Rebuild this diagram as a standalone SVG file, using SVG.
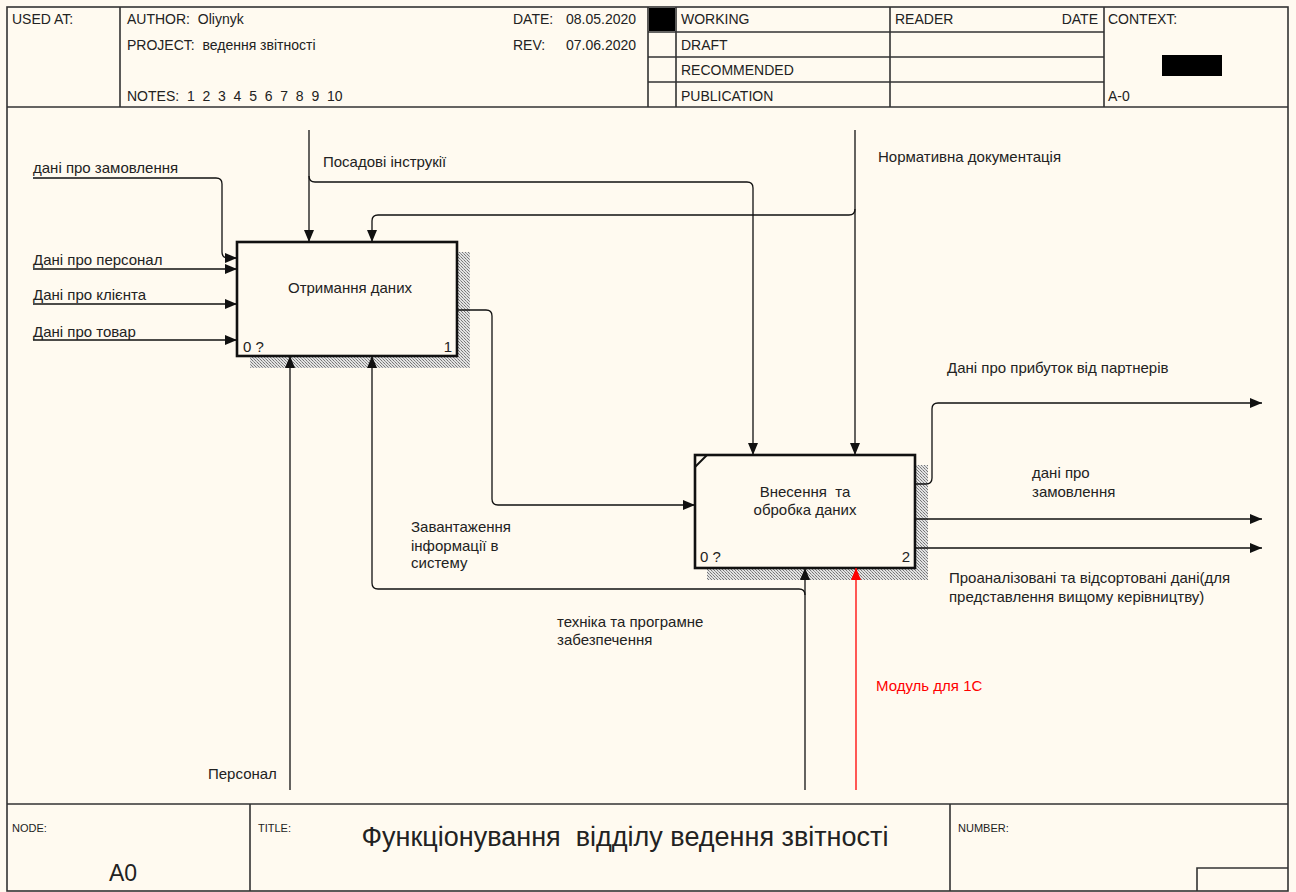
<svg xmlns="http://www.w3.org/2000/svg" width="1296" height="892" viewBox="0 0 1296 892">
<style>
text{font-family:"Liberation Sans",Arial,sans-serif;fill:#222;white-space:pre}
.h{font-size:14px}
.l{font-size:15px}
.f{font-size:11px}
.frame{fill:none;stroke:#333;stroke-width:1.6}
.box{fill:#FFFAF0;stroke:#111;stroke-width:2.6}
.c{fill:none;stroke:#111;stroke-width:1.3}
.r{fill:none;stroke:#f00;stroke-width:1.3}
</style>
<defs>
<pattern id="hatch" width="3" height="3" patternUnits="userSpaceOnUse">
<rect width="3" height="3" fill="#e2e2e2"/>
<rect x="0" y="0" width="1" height="1" fill="#777"/>
<rect x="1" y="1" width="1" height="1" fill="#999"/>
<rect x="2" y="2" width="1" height="1" fill="#777"/>
</pattern>
<marker id="a" viewBox="0 0 12 10" refX="12" refY="5" markerWidth="12" markerHeight="10" markerUnits="userSpaceOnUse" orient="auto"><path d="M0,0 L12,5 L0,10 z" fill="#111"/></marker>
<marker id="ar" viewBox="0 0 12 10" refX="12" refY="5" markerWidth="12" markerHeight="10" markerUnits="userSpaceOnUse" orient="auto"><path d="M0,0 L12,5 L0,10 z" fill="#f00"/></marker>
</defs>
<rect width="1296" height="892" fill="#FFFAF0"/>
<g id="frame">
<rect class="frame" x="7" y="7" width="1281" height="884"/>
<path class="frame" d="M7,107 H1288 M120,7 V107 M648,7 V107 M676,7 V107 M890,7 V107 M1104,7 V107 M648,32 H1104 M648,57 H1104 M648,82 H1104"/>
<rect x="649" y="8" width="26" height="23" fill="#000"/>
<rect x="1162" y="55" width="60" height="21" fill="#000"/>
<path class="frame" d="M7,804 H1288 M250,804 V891 M950,804 V891 M1197,891 V868 H1288"/>
<text class="h" x="12" y="24">USED AT:</text>
<text class="h" x="127" y="24">AUTHOR:  Oliynyk</text>
<text class="h" x="127" y="50">PROJECT:  ведення звітності</text>
<text class="h" x="127" y="101">NOTES:  1  2  3  4  5  6  7  8  9  10</text>
<text class="h" x="513" y="24">DATE:</text>
<text class="h" x="566" y="24">08.05.2020</text>
<text class="h" x="513" y="50">REV:</text>
<text class="h" x="566" y="50">07.06.2020</text>
<text class="h" x="681" y="24">WORKING</text>
<text class="h" x="681" y="50">DRAFT</text>
<text class="h" x="681" y="75">RECOMMENDED</text>
<text class="h" x="681" y="101">PUBLICATION</text>
<text class="h" x="895" y="24">READER</text>
<text class="h" x="1098" y="24" text-anchor="end">DATE</text>
<text class="h" x="1108" y="24">CONTEXT:</text>
<text class="h" x="1108" y="101">A-0</text>
<text class="f" x="12" y="832">NODE:</text>
<text class="f" x="258" y="832">TITLE:</text>
<text class="f" x="958" y="832">NUMBER:</text>
<text x="109" y="881" style="font-size:23px">A0</text>
<text x="625" y="846" text-anchor="middle" style="font-size:27px">Функціонування  відділу ведення звітності</text>
</g>
<g id="node1">
<path d="M457,252 H470 V368 H250 V356 H457 z" fill="url(#hatch)"/>
<rect class="box" x="237" y="242" width="220" height="114"/>
<text class="l" x="350" y="293" text-anchor="middle">Отримання даних</text>
<text class="l" x="243" y="352">0 ?</text>
<text class="l" x="452" y="352" text-anchor="end">1</text>
</g>
<g id="node2">
<path d="M915,465 H928 V580 H707 V568 H915 z" fill="url(#hatch)"/>
<rect class="box" x="695" y="455" width="220" height="113"/>
<path d="M695,467 L707,455" stroke="#111" stroke-width="2"/>
<text class="l" x="805" y="497" text-anchor="middle">Внесення  та</text>
<text class="l" x="805" y="515" text-anchor="middle">обробка даних</text>
<text class="l" x="700" y="562">0 ?</text>
<text class="l" x="910" y="562" text-anchor="end">2</text>
</g>
<g id="connectors">
<path class="c" marker-end="url(#a)" d="M33,178 H216 Q222,178 222,184 V252 Q222,258 228,258 H237"/>
<path class="c" marker-end="url(#a)" d="M33,269 H237"/>
<path class="c" marker-end="url(#a)" d="M33,304 H237"/>
<path class="c" marker-end="url(#a)" d="M33,340 H237"/>
<path class="c" marker-end="url(#a)" d="M309,130 V242"/>
<path class="c" marker-end="url(#a)" d="M309,176 Q309,182 315,182 H747 Q753,182 753,188 V455"/>
<path class="c" marker-end="url(#a)" d="M855,130 V455"/>
<path class="c" marker-end="url(#a)" d="M855,209 Q855,215 849,215 H378 Q372,215 372,221 V242"/>
<path class="c" marker-end="url(#a)" d="M457,310 H486 Q492,310 492,316 V499 Q492,505 498,505 H695"/>
<path class="c" marker-end="url(#a)" d="M915,484 H926 Q932,484 932,478 V409 Q932,403 938,403 H1262"/>
<path class="c" marker-end="url(#a)" d="M915,519 H1262"/>
<path class="c" marker-end="url(#a)" d="M915,548 H1262"/>
<path class="c" marker-end="url(#a)" d="M290,790 V356"/>
<path class="c" marker-end="url(#a)" d="M805,790 V568"/>
<path class="c" marker-end="url(#a)" d="M805,595 Q805,589 799,589 H378 Q372,589 372,583 V356"/>
<path class="r" marker-end="url(#ar)" d="M856,790 V568"/>
<text class="l" x="323" y="167">Посадові інструкії</text>
<text class="l" x="878" y="162">Нормативна документація</text>
<text class="l" x="33" y="173">дані про замовлення</text>
<text class="l" x="33" y="265">Дані про персонал</text>
<text class="l" x="33" y="300">Дані про клієнта</text>
<text class="l" x="33" y="337">Дані про товар</text>
<text class="l" x="947" y="373">Дані про прибуток від партнерів</text>
<text class="l" x="1032" y="478">дані про</text>
<text class="l" x="1032" y="497">замовлення</text>
<text class="l" x="949" y="583">Проаналізовані та відсортовані дані(для</text>
<text class="l" x="949" y="602">представлення вищому керівництву)</text>
<text class="l" x="411" y="532">Завантаження</text>
<text class="l" x="411" y="551">інформації в</text>
<text class="l" x="411" y="568">систему</text>
<text class="l" x="557" y="627">техніка та програмне</text>
<text class="l" x="557" y="645">забезпечення</text>
<text class="l" x="876" y="691" style="fill:#f00">Модуль для 1С</text>
<text class="l" x="208" y="779">Персонал</text>
</g>
</svg>
